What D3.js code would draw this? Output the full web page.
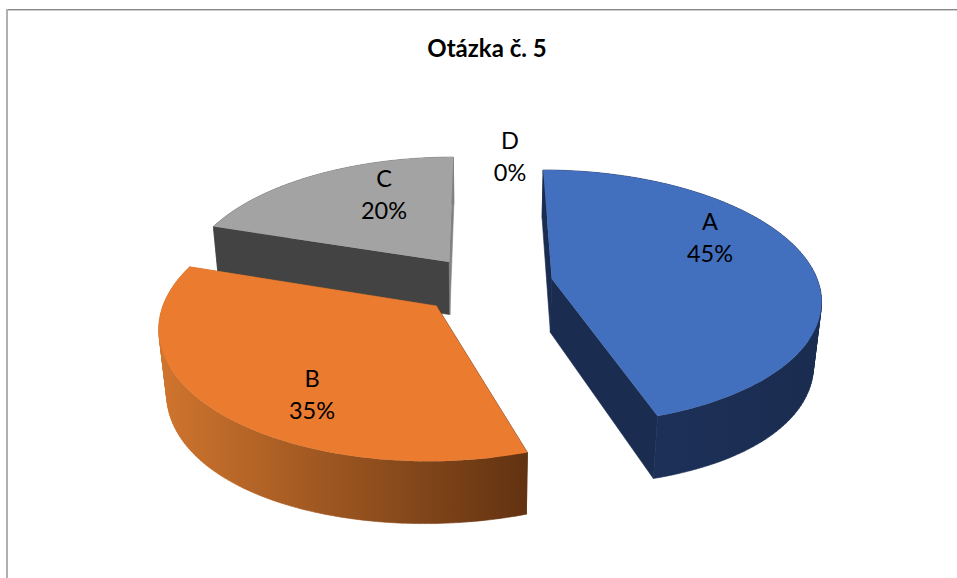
<!DOCTYPE html>
<html>
<head>
<meta charset="utf-8">
<script src="https://cdn.jsdelivr.net/npm/d3@7"></script>
<style>
  html, body { margin: 0; padding: 0; background: #fff; }
  svg { display: block; }
  text { font-family: Lato, "Open Sans", sans-serif; fill: #000; }
</style>
</head>
<body>
<div id="chart"></div>
<script>
const title = "Otázka č. 5";
const categories = ["A", "B", "C", "D"];
const percents = [45, 35, 20, 0];
const topColors = ["#4270bf", "#ea7b2f", "#a3a3a3", "#ffc000"];

const width = 957, height = 578;

// perspective fitted to the picture: both edges at 12 o'clock run to one vanishing point
const vx = 483, hy = -589, H = 873, D = 1850, R = 267;
const vertVy = 3000;      // vertical edges converge slowly downwards
const explode = [70, 64, 59, 0];
const labelXY = [[710, 222], [312, 379], [384, 179], [510, 141]];
const lineGap = 32;

const svg = d3.select("#chart").append("svg")
    .attr("width", width)
    .attr("height", height);

const defs = svg.append("defs");
const orangeGrad = defs.append("linearGradient").attr("id", "wallB")
    .attr("gradientUnits", "userSpaceOnUse")
    .attr("x1", 159).attr("x2", 529).attr("y1", 0).attr("y2", 0);
orangeGrad.append("stop").attr("offset", "0%").attr("stop-color", "#d0752e");
orangeGrad.append("stop").attr("offset", "100%").attr("stop-color", "#613211");
const blueGrad = defs.append("linearGradient").attr("id", "wallA")
    .attr("gradientUnits", "userSpaceOnUse")
    .attr("x1", 655).attr("x2", 822).attr("y1", 0).attr("y2", 0);
blueGrad.append("stop").attr("offset", "0%").attr("stop-color", "#1d3058");
blueGrad.append("stop").attr("offset", "100%").attr("stop-color", "#1a2c4f");

// chart frame, only top and left are in the crop
svg.append("rect").attr("x", 6).attr("y", 9).attr("width", width - 6).attr("height", 1.4).attr("fill", "#888");
svg.append("rect").attr("x", 6).attr("y", 9).attr("width", 2).attr("height", height - 9).attr("fill", "#b0b0b0");

svg.append("text")
    .attr("x", 487)
    .attr("y", 57)
    .attr("text-anchor", "middle")
    .style("font-size", "24px")
    .style("font-weight", "bold")
    .text(title);

function project(X, Z) {
    const f = 1 / (1 - Z / D);
    return [vx + X * f, hy + H * f, f];
}

// same plane point, dropped to the underside of the pie
function projectLow(X, Z) {
    const p = project(X, Z);
    const off = Math.abs(p[0] - vx) / 340;
    const dy = 53.5 * Math.pow(p[2], 0.8) + 10 * off * off;
    const dx = (vx - p[0]) * dy / (vertVy - p[1]);
    return [p[0] + dx, p[1] + dy];
}

const pie = d3.pie().sort(null)(percents);
const line = d3.line().curve(d3.curveLinear);

function sliceGeom(d, i) {
    const mid = (d.startAngle + d.endAngle) / 2;
    const ox = explode[i] * Math.sin(mid), oz = -explode[i] * Math.cos(mid);
    const rim = d3.range(0, 121).map(function(k) {
        const a = d.startAngle + (d.endAngle - d.startAngle) * k / 120;
        return {a: a, X: ox + R * Math.sin(a), Z: oz - R * Math.cos(a)};
    });
    return {apex: [ox, oz], rim: rim};
}

function radialFace(g, pt, fill) {
    const pts = [project(g.apex[0], g.apex[1]), project(pt.X, pt.Z),
                 projectLow(pt.X, pt.Z), projectLow(g.apex[0], g.apex[1])];
    svg.append("path")
        .attr("d", line(pts.map(function(p) { return [p[0], p[1]]; })) + "Z")
        .attr("fill", fill)
        .attr("stroke", fill)
        .attr("stroke-width", 0.6);
}

// rim wall as one quad per step, all wound the same way so the fold at the silhouette stays filled
function wallPart(rim, fill) {
    let d = "";
    for (let k = 0; k < rim.length - 1; k++) {
        const p = rim[k], q = rim[k + 1];
        const quad = [project(p.X, p.Z).slice(0, 2), project(q.X, q.Z).slice(0, 2),
                      projectLow(q.X, q.Z), projectLow(p.X, p.Z)];
        if (d3.polygonArea(quad) < 0) quad.reverse();
        d += line(quad) + "Z";
    }
    if (d) svg.append("path").attr("d", d).attr("fill", fill).attr("stroke", fill).attr("stroke-width", 0.6);
}

function drawSlice(i, startFace, endFace, wall) {
    const g = sliceGeom(pie[i], i);
    const first = g.rim[0], last = g.rim[g.rim.length - 1];

    // back of the rim, then the cut faces, then the front of the rim and the top
    wallPart(g.rim.filter(function(p) { return Math.cos(p.a) >= 0; }), wall);
    radialFace(g, first, startFace);
    radialFace(g, last, endFace);
    wallPart(g.rim.filter(function(p) { return Math.cos(p.a) <= 0.02; }), wall);

    const upper = g.rim.map(function(p) { return project(p.X, p.Z).slice(0, 2); });
    const a = project(g.apex[0], g.apex[1]).slice(0, 2);
    svg.append("path").attr("d", line([a].concat(upper)) + "Z").attr("fill", topColors[i]);
}

// back to front
drawSlice(2, "#434343", "#828282", "#6f6f6f");
drawSlice(0, "#1a2c4f", "#1a2c4f", "url(#wallA)");
drawSlice(1, "#61320f", "#c96f2b", "url(#wallB)");

const labels = svg.append("g").selectAll("g")
    .data(categories)
    .enter()
    .append("g");

labels.append("text")
    .attr("x", function(d, i) { return labelXY[i][0]; })
    .attr("y", function(d, i) { return labelXY[i][1]; })
    .attr("dy", "0.35em")
    .attr("text-anchor", "middle")
    .style("font-size", "23.5px")
    .text(function(d) { return d; });

labels.append("text")
    .attr("x", function(d, i) { return labelXY[i][0]; })
    .attr("y", function(d, i) { return labelXY[i][1] + lineGap; })
    .attr("dy", "0.35em")
    .attr("text-anchor", "middle")
    .style("font-size", "23.5px")
    .text(function(d, i) { return percents[i] + "%"; });
</script>
</body>
</html>
